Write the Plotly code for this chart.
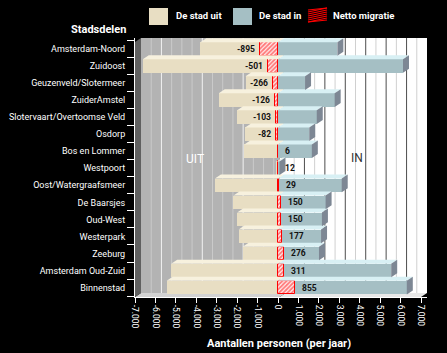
import plotly.graph_objects as go

# ---------------- data ----------------
districts = ["Amsterdam-Noord", "Zuidoost", "Geuzenveld/Slotermeer", "ZuiderAmstel",
             "Slotervaart/Overtoomse Veld", "Osdorp", "Bos en Lommer", "Westpoort",
             "Oost/Watergraafsmeer", "De Baarsjes", "Oud-West", "Westerpark", "Zeeburg",
             "Amsterdam Oud-Zuid", "Binnenstad"]
stad_uit = [3800, 6620, 1590, 2900, 2000, 1610, 1650, 60, 3090, 2180, 2000, 1930, 1730, 5230, 5450]
stad_in = [2905, 6119, 1324, 2774, 1897, 1528, 1656, 72, 3119, 2330, 2150, 2107, 2006, 5541, 6305]
netto = [-895, -501, -266, -126, -103, -82, 6, 12, 29, 150, 150, 177, 276, 311, 855]
x_tickvals = [-7000, -6000, -5000, -4000, -3000, -2000, -1000, 0,
              1000, 2000, 3000, 4000, 5000, 6000, 7000]
x_ticktext = ["-7.000", "-6.000", "-5.000", "-4.000", "-3.000", "-2.000", "-1.000", "0",
              "1.000", "2.000", "3.000", "4.000", "5.000", "6.000", "7.000"]

# ---------------- geometry ----------------
W, H = 447, 353
L, R, T, B = 135, 427, 38, 297
XMIN = -7000
FRONT_R = 421
upp = 14000 / (FRONT_R - L)
XMAX = XMIN + (R - L) * upp
ROW0, PITCH = 49, 17.04
YMAX = (ROW0 - T) / PITCH
YMIN = -(B - ROW0) / PITCH
DX = 6 * upp
DY = 4 / PITCH
HB = 0.4

def px_x(px):
    return (px - L) / (R - L)

def px_y(py):
    return (B - py) / (B - T)

FONT = "Roboto, Liberation Sans, sans-serif"
TAN, TAN_TOP = "#e8dec3", "#f7f1de"
BLUE, BLUE_TOP, BLUE_SIDE = "#a5bfc4", "#d8f0f4", "#7d8794"

n = len(districts)
yc = [-i for i in range(n)]

fig = go.Figure()

# front faces
fig.add_trace(go.Bar(x=[-u for u in stad_uit], y=yc, orientation="h", width=2 * HB,
                     marker=dict(color=TAN, line=dict(width=0)), name="De stad uit",
                     showlegend=False, hoverinfo="skip"))
fig.add_trace(go.Bar(x=stad_in, y=yc, orientation="h", width=2 * HB,
                     marker=dict(color=BLUE, line=dict(width=0)), name="De stad in",
                     showlegend=False, hoverinfo="skip"))
fig.add_trace(go.Bar(x=netto, y=yc, orientation="h", width=2 * HB,
                     marker=dict(color="#fff0f0", line=dict(width=1, color="#ff0000"),
                                 pattern=dict(shape="/", fgcolor="#ff0000", bgcolor="#fff0f0",
                                              size=3, solidity=0.6)),
                     name="Netto migratie", showlegend=False, hoverinfo="skip"))

# 3D faces computed from data
def poly_trace(polys, color):
    xs, ys = [], []
    for p in polys:
        for (a, b) in p:
            xs.append(a); ys.append(b)
        xs.append(p[0][0]); ys.append(p[0][1])
        xs.append(None); ys.append(None)
    return go.Scatter(x=xs, y=ys, mode="lines", fill="toself", fillcolor=color,
                      line=dict(width=0, color=color), hoverinfo="skip", showlegend=False)

tan_top, blue_top, blue_side = [], [], []
for i in range(n):
    y0 = yc[i]
    top = y0 + HB
    u, v = -stad_uit[i], stad_in[i]
    tan_top.append([(u, top), (0, top), (DX, top + DY), (u + DX, top + DY)])
    blue_top.append([(0, top), (v, top), (v + DX, top + DY), (DX, top + DY)])
    blue_side.append([(v, y0 - HB), (v + DX, y0 - HB + DY), (v + DX, top + DY), (v, top)])
fig.add_trace(poly_trace(tan_top, TAN_TOP))
fig.add_trace(poly_trace(blue_top, BLUE_TOP))
fig.add_trace(poly_trace(blue_side, BLUE_SIDE))

# ---------------- background box (shapes) ----------------
shapes = []
back_bot = YMIN + DY
zero_b = 0 + 80
shapes.append(dict(type="rect", xref="x", yref="y", x0=XMIN + DX, x1=zero_b, y0=back_bot, y1=YMAX,
                   fillcolor="#b3b3b3", line=dict(width=0), layer="below"))
shapes.append(dict(type="rect", xref="x", yref="y", x0=zero_b, x1=XMAX, y0=back_bot, y1=YMAX,
                   fillcolor="#ffffff", line=dict(width=0), layer="below"))
for gv in range(-6500, 7000, 500):
    if gv == 0:
        continue
    if gv < 0:
        col = "#f2f2f2" if gv % 2000 == 0 else "#cacaca"
    else:
        col = "#4d4d4d" if gv % 1000 == 0 else "#d0d0d0"
    shapes.append(dict(type="line", xref="x", yref="y", x0=gv + DX, x1=gv + DX, y0=back_bot, y1=YMAX,
                       line=dict(color=col, width=1), layer="below"))
shapes.append(dict(type="path", xref="x", yref="y",
                   path=f"M{XMIN},{YMIN} L{zero_b},{YMIN} L{zero_b + DX},{back_bot} L{XMIN + DX},{back_bot} Z",
                   fillcolor="#d2d2d2", line=dict(width=0), layer="below"))
shapes.append(dict(type="path", xref="x", yref="y",
                   path=f"M{zero_b},{YMIN} L{7000},{YMIN} L{7000 + DX},{back_bot} L{zero_b + DX},{back_bot} Z",
                   fillcolor="#e8e8e8", line=dict(width=0), layer="below"))
shapes.append(dict(type="path", xref="x", yref="y",
                   path=f"M{XMIN},{YMIN} L{XMIN + DX},{back_bot} L{XMIN + DX},{YMAX} L{XMIN},{YMAX - DY} Z",
                   fillcolor="#606060", line=dict(width=0), layer="below"))

# ---------------- legend (shapes + text) ----------------
def box(x0, y0, x1, y1, color):
    return dict(type="rect", xref="paper", yref="paper", x0=px_x(x0), x1=px_x(x1),
                y0=px_y(y1), y1=px_y(y0), fillcolor=color, line=dict(width=0))

shapes.append(box(149, 8, 168, 25, TAN))
shapes.append(box(233, 8, 252, 25, BLUE))
for yy in range(10, 26, 2):
    shapes.append(dict(type="line", xref="paper", yref="paper",
                       x0=px_x(308), x1=px_x(327), y0=px_y(min(yy, 22)), y1=px_y(max(yy - 4, 8)),
                       line=dict(color="#ff0000", width=1.1)))

annotations = []
def text(px, py, s, size, color="white", anchor="left", bold=False, fam=FONT):
    annotations.append(dict(xref="paper", yref="paper", x=px_x(px), y=px_y(py), text=(f"<b>{s}</b>" if bold else s),
                            showarrow=False, xanchor=anchor, yanchor="middle",
                            font=dict(family=fam, size=size, color=color)))

text(174, 16, "De stad uit", 9.5, bold=True)
text(257, 16, "De stad in", 9.5, bold=True)
text(331, 16, "Netto migratie", 9.5, bold=True)
text(128, 29, "Stadsdelen", 11, bold=True, anchor="right")
text(195, 159, "UIT", 12, anchor="center")
text(357, 158, "IN", 12, color="#333333", anchor="center")
text(279, 343, "Aantallen personen (per jaar)", 11, anchor="center", bold=True)

for i in range(n):
    v = netto[i]
    annotations.append(dict(xref="x", yref="y", x=v, y=yc[i], text=f"<b>{v}</b>", showarrow=False,
                            xanchor="right" if v < 0 else "left", yanchor="middle",
                            xshift=-3 if v < 0 else 5,
                            font=dict(family=FONT, size=8.5, color="#111111")))

fig.update_layout(
    width=W, height=H,
    margin=dict(l=L, r=W - R, t=T, b=H - B, pad=0, autoexpand=False),
    paper_bgcolor="black", plot_bgcolor="black",
    barmode="overlay", bargap=0,
    showlegend=False,
    shapes=shapes, annotations=annotations,
    xaxis=dict(range=[XMIN, XMAX], tickvals=x_tickvals, ticktext=x_ticktext, tickangle=90,
               automargin=False,
               showgrid=False, zeroline=False, showline=True, linecolor="white", linewidth=1,
               ticks="outside", ticklen=5, tickcolor="white", tickwidth=1,
               tickfont=dict(family=FONT, size=8.5, color="white")),
    yaxis=dict(range=[YMIN, YMAX], tickvals=yc, ticktext=districts, automargin=False,
               showgrid=False, zeroline=False, showline=True, linecolor="white", linewidth=1,
               ticks="", ticklabelstandoff=7,
               minor=dict(tickmode="array", tickvals=[y + 0.5 for y in yc] + [YMIN + 0.01],
                          ticks="outside", ticklen=7, tickcolor="white", showgrid=False),
               tickfont=dict(family=FONT, size=9, color="white")),
)

fig.write_html("out.html")
